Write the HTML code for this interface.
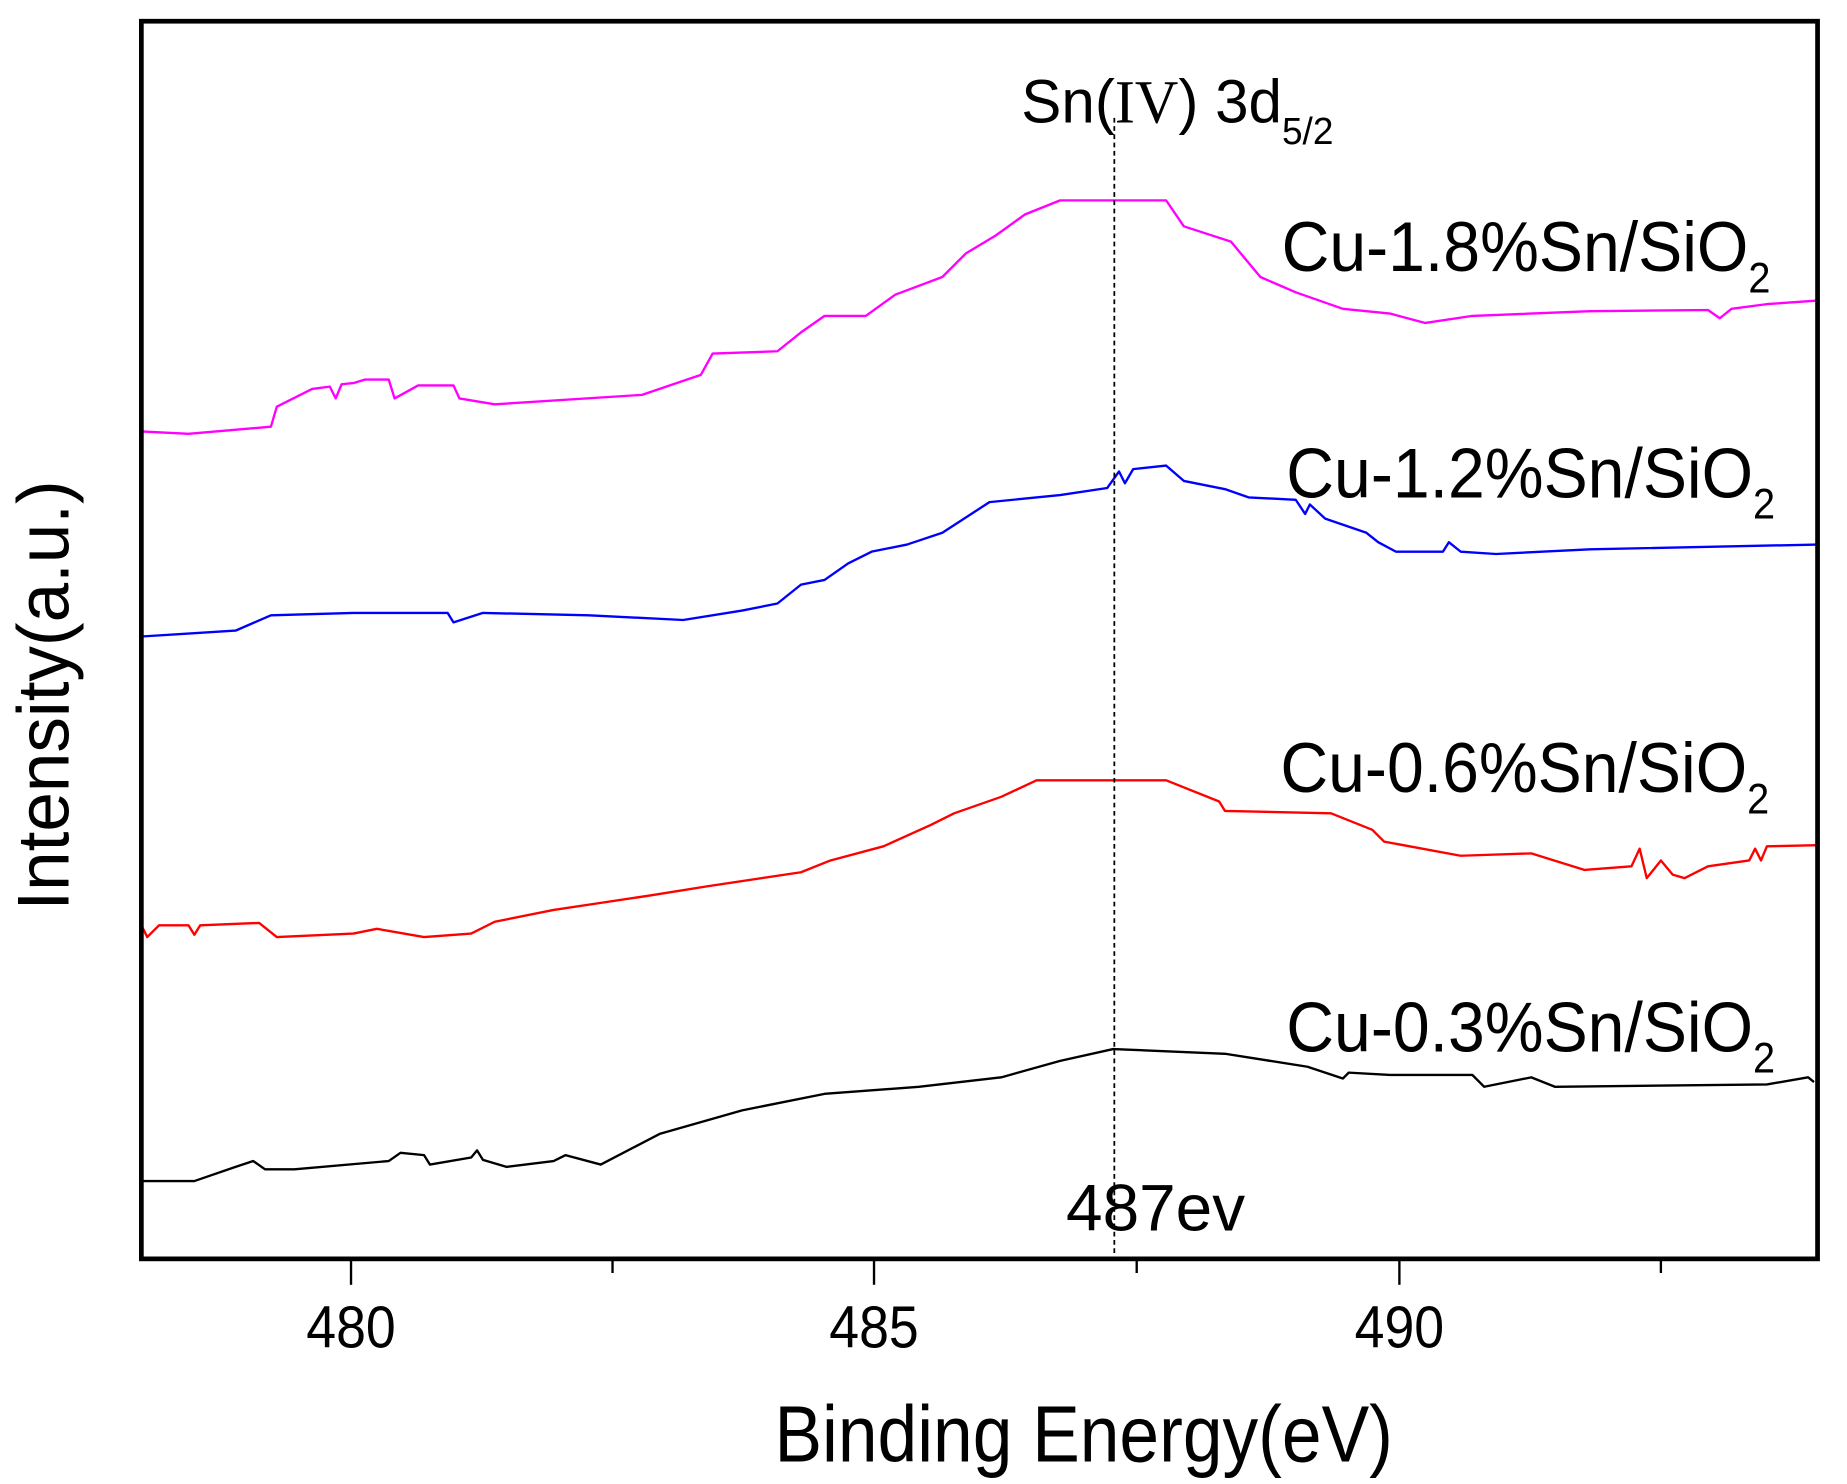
<!DOCTYPE html>
<html><head><meta charset="utf-8"><style>html,body{margin:0;padding:0;background:#fff}svg{display:block}</style></head>
<body>
<svg width="1847" height="1484" viewBox="0 0 1568 1259" preserveAspectRatio="none" xmlns="http://www.w3.org/2000/svg" font-family="Liberation Sans, Arial, sans-serif">
<rect width="1568" height="1259" fill="#fff"/>
<g fill="none" stroke-width="2" stroke-linejoin="round">
<polyline stroke="#ff00ff" points="120,366 160,368 230,362 235,345 265,330 280,328 285,338 290,326 300,325 310,322 330,322 335,338 355,327 385,327 390,338 420,343 545,335 595,318 605,300 660,298 680,282 700,268 735,268 760,250 800,235 820,215 845,200 870,182 900,170 990,170 1005,192 1045,205 1070,235 1100,248 1140,262 1180,266 1210,274 1250,268 1350,264 1450,263 1460,270 1470,262 1500,258 1543,255"/>
<polyline stroke="#0000ff" points="120,540 200,535 230,522 300,520 380,520 385,528 410,520 500,522 580,526 630,518 660,512 680,496 700,492 720,478 740,468 770,462 800,452 840,426 900,420 940,414 950,400 955,410 962,398 990,395 1005,408 1040,415 1060,422 1100,424 1108,436 1112,428 1125,440 1160,452 1170,460 1185,468 1225,468 1230,460 1240,468 1270,470 1350,466 1543,462"/>
<polyline stroke="#ff0000" points="120,785 125,795 135,785 160,785 165,793 170,785 220,783 235,795 300,792 320,788 360,795 400,792 420,782 470,772 510,766 550,760 600,752 680,740 705,730 750,718 790,700 810,690 850,676 880,662 990,662 1035,680 1040,688 1130,690 1165,704 1175,714 1240,726 1300,724 1345,738 1385,735 1392,720 1398,745 1410,730 1420,742 1430,745 1450,735 1485,730 1490,720 1495,730 1500,718 1543,717"/>
<polyline stroke="#000000" points="120,1002 165,1002 200,990 215,985 225,992 250,992 330,985 340,978 360,980 365,988 400,982 405,976 410,984 430,990 470,985 480,980 510,988 560,962 630,942 700,928 780,922 850,914 900,900 945,890 1040,894 1110,905 1140,915 1145,910 1180,912 1250,912 1260,922 1300,914 1320,922 1500,920 1535,914 1540,918"/>
</g>
<line x1="946" y1="100" x2="946" y2="1068" stroke="#000" stroke-width="1.5" stroke-dasharray="4,3"/>
<rect x="120" y="18" width="1423" height="1050" fill="none" stroke="#000" stroke-width="4"/>
<g stroke="#000" stroke-width="2">
<line x1="298" y1="1068" x2="298" y2="1090"/><line x1="520" y1="1068" x2="520" y2="1080"/>
<line x1="742" y1="1068" x2="742" y2="1090"/><line x1="965" y1="1068" x2="965" y2="1080"/>
<line x1="1188" y1="1068" x2="1188" y2="1090"/><line x1="1410" y1="1068" x2="1410" y2="1080"/>
</g>
<g font-size="50" text-anchor="middle" fill="#000">
<text x="298" y="1143" textLength="76" lengthAdjust="spacingAndGlyphs">480</text>
<text x="742" y="1143" textLength="76" lengthAdjust="spacingAndGlyphs">485</text>
<text x="1188" y="1143" textLength="76" lengthAdjust="spacingAndGlyphs">490</text>
</g>
<text x="920" y="1240" font-size="68" text-anchor="middle" textLength="525" lengthAdjust="spacingAndGlyphs">Binding Energy(eV)</text>
<text transform="translate(58,590) rotate(-90)" font-size="62" text-anchor="middle" textLength="365" lengthAdjust="spacingAndGlyphs">Intensity(a.u.)</text>
<text x="867" y="104" font-size="52" textLength="265" lengthAdjust="spacingAndGlyphs">Sn(<tspan font-family="Liberation Serif, serif">IV</tspan>) 3d<tspan font-size="32" dy="18">5/2</tspan></text>
<text x="905" y="1044" font-size="56" textLength="152" lengthAdjust="spacingAndGlyphs">487ev</text>
<g font-size="60" fill="#000">
<text x="1088" y="230" textLength="415" lengthAdjust="spacingAndGlyphs">Cu-1.8%Sn/SiO<tspan font-size="36" dy="18">2</tspan></text>
<text x="1092" y="422" textLength="415" lengthAdjust="spacingAndGlyphs">Cu-1.2%Sn/SiO<tspan font-size="36" dy="18">2</tspan></text>
<text x="1087" y="672" textLength="415" lengthAdjust="spacingAndGlyphs">Cu-0.6%Sn/SiO<tspan font-size="36" dy="18">2</tspan></text>
<text x="1092" y="892" textLength="415" lengthAdjust="spacingAndGlyphs">Cu-0.3%Sn/SiO<tspan font-size="36" dy="18">2</tspan></text>
</g>
</svg>
</body></html>
